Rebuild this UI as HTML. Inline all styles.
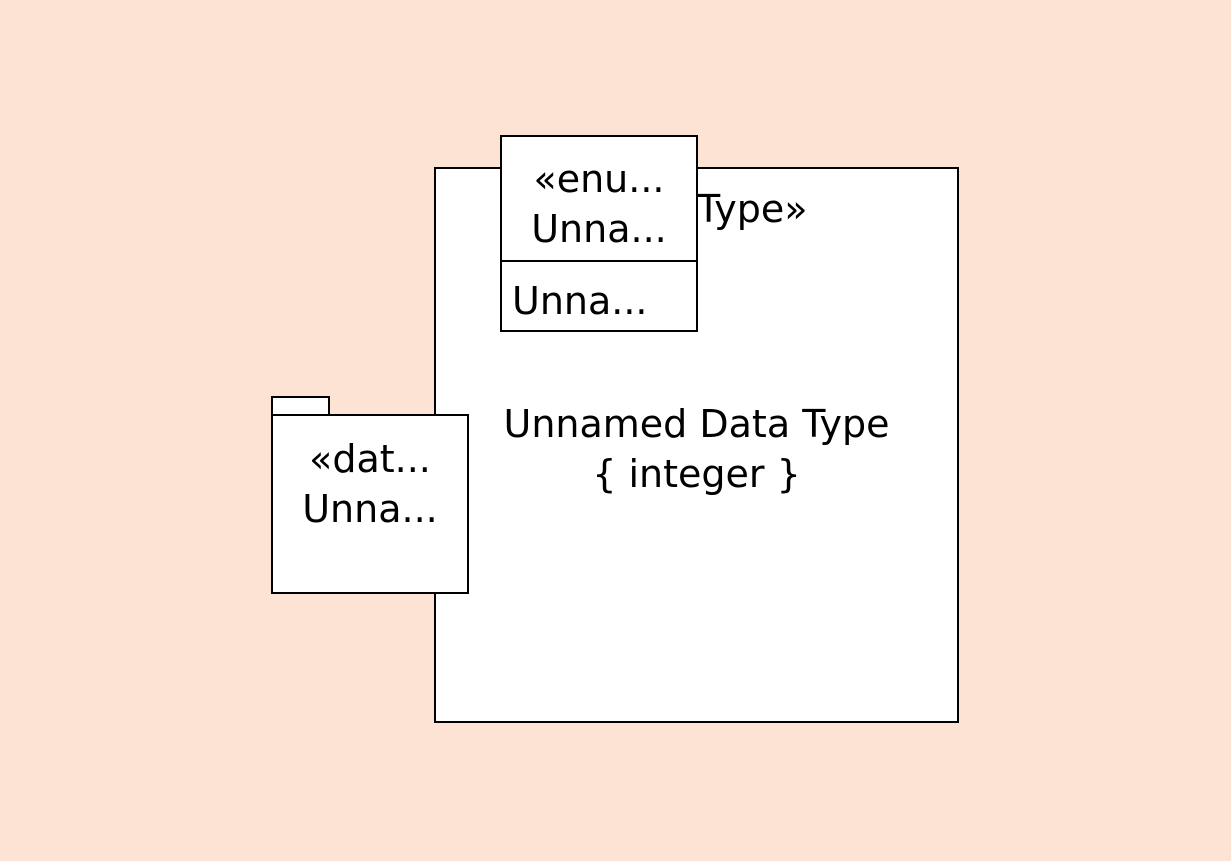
<!DOCTYPE html>
<html><head><style>
body{margin:0;width:1231px;height:861px;background:#fde3d3;position:relative;overflow:hidden;font-family:"DejaVu Sans","Liberation Sans",sans-serif;color:#000}
.b{position:absolute;background:#fff;border:2px solid #000;box-sizing:border-box}
.t{position:absolute;white-space:nowrap;font-size:38px;line-height:50px}
</style></head><body>
<div class="b" style="left:434px;top:167px;width:525px;height:556px"></div>
<div class="t" style="left:697px;top:184px">Type»</div>
<div class="t" style="left:435px;top:399px;width:523px;text-align:center">Unnamed Data Type<br>{ integer }</div>
<div class="b" style="left:500px;top:135px;width:198px;height:197px"></div>
<div style="position:absolute;left:500px;top:260px;width:198px;height:2px;background:#000"></div>
<div class="t" style="left:500px;top:154px;width:198px;text-align:center">«enu...<br>Unna...</div>
<div class="t" style="left:512px;top:276px">Unna...</div>
<div class="b" style="left:271px;top:396px;width:59px;height:21px"></div>
<div class="b" style="left:271px;top:414px;width:198px;height:180px"></div>
<div class="t" style="left:271px;top:434px;width:198px;text-align:center">«dat...<br>Unna...</div>
</body></html>
